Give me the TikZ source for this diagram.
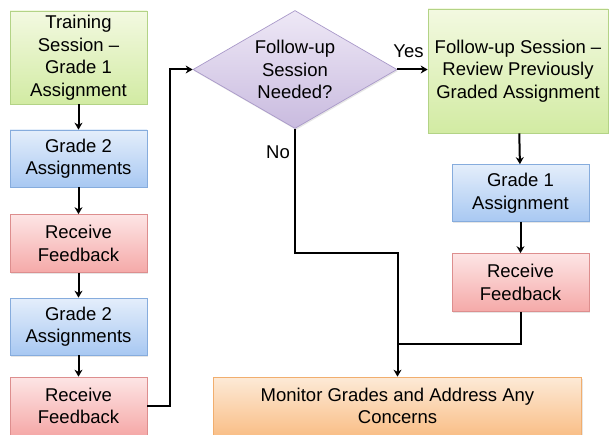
\documentclass[tikz,border=0pt]{standalone}
\usepackage{fontspec}
\setmainfont{Liberation Sans}
\usetikzlibrary{shapes.geometric,shadows,arrows.meta}
\definecolor{grnT}{HTML}{F3F9E1}
\definecolor{grnB}{HTML}{D2EBA3}
\definecolor{grnD}{HTML}{B3D386}
\definecolor{bluT}{HTML}{E4EEFB}
\definecolor{bluB}{HTML}{A8C8F2}
\definecolor{bluD}{HTML}{86ACDD}
\definecolor{redT}{HTML}{FDE5E5}
\definecolor{redB}{HTML}{F5A9A8}
\definecolor{redD}{HTML}{DD8E8E}
\definecolor{orgT}{HTML}{FDEAD7}
\definecolor{orgB}{HTML}{F9BF88}
\definecolor{orgD}{HTML}{F1AE6E}
\definecolor{purT}{HTML}{EEE8F6}
\definecolor{purB}{HTML}{C9BBDF}
\definecolor{purD}{HTML}{A999C9}
\tikzset{
  caja/.style={rectangle,line width=0.7pt,align=center,inner sep=2pt,
    font=\fontsize{18.5}{22.5}\selectfont,
    drop shadow={opacity=0.2,shadow xshift=1pt,shadow yshift=-1.5pt}},
  verde/.style={caja,draw=grnD,top color=grnT,bottom color=grnB},
  azul/.style={caja,draw=bluD,top color=bluT,bottom color=bluB,minimum width=137pt,minimum height=57pt},
  rojo/.style={caja,draw=redD,top color=redT,bottom color=redB,minimum width=137pt,minimum height=58pt},
  naranja/.style={caja,draw=orgD,top color=orgT,bottom color=orgB},
  rombo/.style={caja,diamond,shape aspect=1.73,inner sep=0pt,draw=purD,top color=purT,bottom color=purB},
  flecha/.style={->,line width=2pt},
  etiqueta/.style={font=\fontsize{18.5}{20}\selectfont}
}
\begin{document}
\begin{tikzpicture}[x=1pt,y=-1pt,>={Stealth[length=7pt,width=8pt]}]
  \useasboundingbox (0,0) rectangle (609,435);
  % columna izquierda
  \node[verde,minimum width=137pt,minimum height=93pt] (train) at (78.5,57.5)
    {Training\\Session --\\Grade 1\\Assignment};
  \node[azul] (gradeA) at (78.5,158.5) {Grade 2\\Assignments};
  \node[rojo] (fbA) at (78.5,243.5) {Receive\\Feedback};
  \node[azul] (gradeB) at (78.5,326.5) {Grade 2\\Assignments};
  \node[rojo] (fbB) at (78.5,406) {Receive\\Feedback};
  % decision
  \node[rombo,minimum width=204pt,minimum height=118pt] (need) at (295,69.5)
    {Follow-up\\Session\\Needed?};
  % columna derecha
  \node[verde,minimum width=180pt,minimum height=124pt] (follow) at (518,71)
    {Follow-up Session --\\Review Previously\\Graded Assignment};
  \node[azul] (gradeC) at (520.5,193) {Grade 1\\Assignment};
  \node[rojo] (fbC) at (520.5,282.5) {Receive\\Feedback};
  \node[naranja,minimum width=368pt,minimum height=58pt] (monitor) at (397.5,406)
    {Monitor Grades and Address Any\\Concerns};
  % puntos de giro
  \coordinate (turnL) at (170,0);
  \coordinate (joinN) at (397.5,253);
  \coordinate (joinF) at (397.5,344);
  % flechas
  \draw[flecha] (train) -- (gradeA);
  \draw[flecha] (gradeA) -- (fbA);
  \draw[flecha] (fbA) -- (gradeB);
  \draw[flecha] (gradeB) -- (fbB);
  \draw[flecha] (fbB.east) -- (fbB.east -| turnL) |- (need.west);
  \draw[flecha] (need.east) -- node[etiqueta,above=7pt,xshift=-4pt]{Yes} (need.east -| follow.west);
  \draw[flecha] (follow) -- (gradeC);
  \draw[flecha] (gradeC) -- (fbC);
  \draw[flecha] (need.south) |- (joinN) -- (monitor.north);
  \draw[line width=2pt] (fbC.south) |- (joinF);
  \node[etiqueta] (no) at (278,152) {No};
\end{tikzpicture}
\end{document}
